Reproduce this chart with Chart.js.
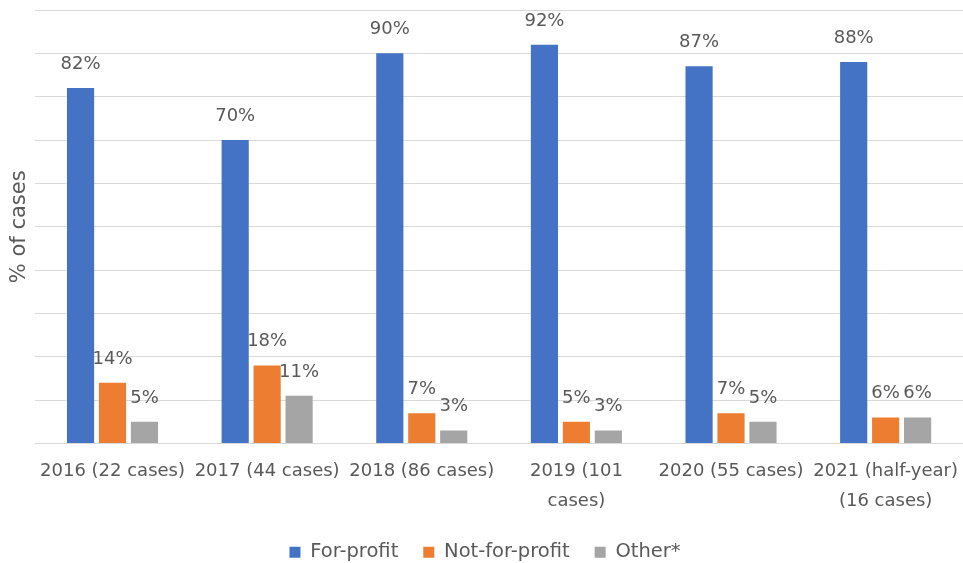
<!DOCTYPE html>
<html>
<head>
<meta charset="utf-8">
<script src="https://cdn.jsdelivr.net/npm/chart.js@4"></script>
<style>
  html, body { margin: 0; padding: 0; background: #fff; }
  #wrap { width: 963px; height: 563px; }
</style>
</head>
<body>
<div id="wrap"><canvas id="casesChart"></canvas></div>
<script>
const years = ["2016 (22 cases)", "2017 (44 cases)", "2018 (86 cases)", ["2019 (101", "cases)"], "2020 (55 cases)", ["2021 (half-year)", "(16 cases)"]];
const forProfit = [82, 70, 90, 92, 87, 88];
const notForProfit = [14, 18, 7, 5, 7, 6];
const other = [5, 11, 3, 3, 5, 6];

const textColor = "#595959";
const fontFamily = "'DejaVu Sans', sans-serif";

// Percent labels above each bar
const barLabels = {
    id: "barLabels",
    afterDatasetsDraw(chart) {
        const ctx = chart.ctx;
        ctx.save();
        ctx.font = "18px " + fontFamily;
        ctx.fillStyle = textColor;
        ctx.textAlign = "center";
        ctx.textBaseline = "alphabetic";
        chart.data.datasets.forEach((ds, i) => {
            chart.getDatasetMeta(i).data.forEach((bar, j) => {
                ctx.fillText(ds.data[j] + "%", bar.x, bar.y - 19);
            });
        });
        ctx.restore();
    }
};

new Chart(document.getElementById("casesChart").getContext("2d"), {
    type: "bar",
    data: {
        labels: years,
        datasets: [
            { label: "For-profit", data: forProfit, backgroundColor: "#4472C4" },
            { label: "Not-for-profit", data: notForProfit, backgroundColor: "#ED7D31" },
            { label: "Other*", data: other, backgroundColor: "#A5A5A5" }
        ]
    },
    options: {
        responsive: true,
        maintainAspectRatio: false,
        animation: false,
        layout: { padding: { left: 7, right: 0, top: 10, bottom: -9 } },
        datasets: {
            bar: { categoryPercentage: 0.62, barPercentage: 0.85 }
        },
        scales: {
            x: {
                grid: { display: false },
                border: { color: "#d9d9d9" },
                afterFit(scale) { scale.height = 74; },
                ticks: {
                    color: textColor,
                    padding: 5,
                    maxRotation: 0,
                    autoSkip: false,
                    font: { family: fontFamily, size: 18, lineHeight: 1.65 }
                }
            },
            y: {
                min: 0,
                max: 100,
                ticks: { display: false, stepSize: 10 },
                grid: { color: "#d9d9d9", drawTicks: false },
                border: { display: false },
                title: {
                    display: true,
                    text: "% of cases",
                    color: textColor,
                    padding: { top: 0, bottom: 3 },
                    font: { family: fontFamily, size: 21 }
                }
            }
        },
        plugins: {
            tooltip: { enabled: false },
            legend: {
                position: "bottom",
                labels: {
                    color: textColor,
                    boxWidth: 11,
                    boxHeight: 11,
                    padding: 25,
                    font: { family: fontFamily, size: 19.5 }
                }
            }
        }
    },
    plugins: [barLabels]
});
</script>
</body>
</html>
